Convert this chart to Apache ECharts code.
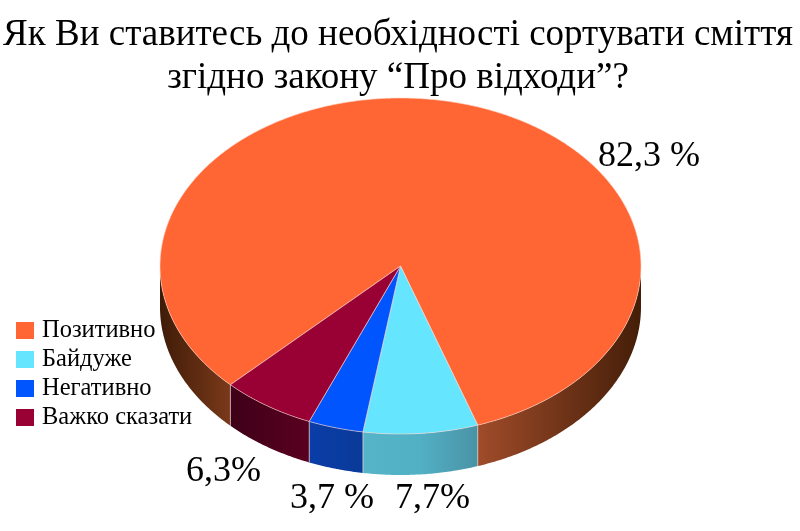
<!DOCTYPE html>
<html><head><meta charset="utf-8">
<style>html,body{margin:0;padding:0;background:#fff}#c{width:800px;height:531px}</style>
<script src="https://cdn.jsdelivr.net/npm/echarts@6/dist/echarts.min.js"></script>
</head><body><div id="c"></div>
<script>
const categories = ['Позитивно', 'Байдуже', 'Негативно', 'Важко сказати'];
const values = [82.3, 7.7, 3.7, 6.3];
const valueLabels = ['82,3 %', '7,7%', '3,7 %', '6,3%'];
const titleText = 'Як Ви ставитесь до необхідності сортувати сміття\nзгідно закону “Про відходи”?';

const topColors = ['#FF6633', '#66E5FF', '#0055FF', '#990033'];
const wallStops = [
  [[0,'#3f1c08'],[0.15,'#7c3a1a'],[0.66,'#a04c2a'],[1,'#451e08']],
  [[0,'#55b4c8'],[0.5,'#52b0c4'],[1,'#4a92a6']],
  [[0,'#0a3da8'],[1,'#0a3a98']],
  [[0,'#3f0018'],[1,'#5a0020']]
];
const wallRange = [[160,640],[363,478],[310,363],[232,310]];
const CX = 400.5, CY = 266, RX = 240.5, RY = 168, DEPTH = 41, START = 225;
const FONT = '"Liberation Serif", serif';

const total = values.reduce((a, b) => a + b, 0);
const pt = (deg, dy) => {
  const r = deg * Math.PI / 180;
  return [CX + RX * Math.sin(r), CY - RY * Math.cos(r) + (dy || 0)];
};
function arc(a, b, dy) {
  const out = [];
  const n = Math.max(2, Math.ceil(Math.abs(b - a) * 2));
  for (let i = 0; i <= n; i++) out.push(pt(a + (b - a) * i / n, dy));
  return out;
}
function renderSlice(idx) {
  return function (params, api) {
    let before = 0;
    for (let i = 0; i < idx; i++) before += values[i];
    const a0 = START + before / total * 360;
    const a1 = a0 + api.value(0) / total * 360;
    const children = [];
    const grad = {
      type: 'linear', x: wallRange[idx][0], y: 0, x2: wallRange[idx][1], y2: 0, global: true,
      colorStops: wallStops[idx].map(s => ({ offset: s[0], color: s[1] }))
    };
    [[90, 270], [450, 630]].forEach(([f0, f1]) => {
      const s = Math.max(a0, f0), e = Math.min(a1, f1);
      if (e <= s) return;
      const upper = arc(s, e, 0), lower = arc(e, s, DEPTH);
      children.push({ type: 'polygon', shape: { points: upper.concat(lower) }, style: { fill: grad } });
      [s, e].forEach(x => {
        if (x === 90 || x === 270 || x === 450 || x === 630) return;
        const p = pt(x, 0);
        children.push({ type: 'line', shape: { x1: p[0], y1: p[1], x2: p[0], y2: p[1] + DEPTH },
          style: { stroke: 'rgba(225,215,215,0.55)', lineWidth: 1 } });
      });
    });
    const pts = [[CX, CY]].concat(arc(a0, a1, 0));
    children.push({ type: 'polygon', shape: { points: pts },
      style: { fill: topColors[idx], stroke: 'rgba(255,215,205,0.75)', lineWidth: 0.8, lineJoin: 'round' } });
    return { type: 'group', children };
  };
}

const chart = echarts.init(document.getElementById('c'));
chart.setOption({
  animation: false,
  backgroundColor: '#fff',
  title: {
    text: titleText, left: 398, textAlign: 'center', top: 9, padding: [5, 0, 5, 0],
    textStyle: { fontFamily: FONT, fontWeight: 'normal', fontSize: 37, lineHeight: 43, color: '#000' }
  },
  legend: {
    orient: 'vertical', left: 16, top: 318, padding: 0, icon: 'rect', itemWidth: 18, itemHeight: 17, itemGap: 4,
    textStyle: { fontFamily: FONT, fontSize: 24.5, lineHeight: 24, color: '#000', padding: [0, 0, 0, 3] },
    data: categories
  },
  graphic: [
    { type: 'text', left: 598, top: 139, style: { text: valueLabels[0], font: '36px ' + FONT, fill: '#000' } },
    { type: 'text', left: 395, top: 481, style: { text: valueLabels[1], font: '36px ' + FONT, fill: '#000' } },
    { type: 'text', left: 290, top: 481, style: { text: valueLabels[2], font: '36px ' + FONT, fill: '#000' } },
    { type: 'text', left: 186, top: 454, style: { text: valueLabels[3], font: '36px ' + FONT, fill: '#000' } }
  ],
  series: categories.map((name, i) => ({
    type: 'custom', name, coordinateSystem: 'none', silent: true,
    itemStyle: { color: topColors[i] },
    renderItem: renderSlice(i),
    data: [[values[i]]]
  }))
});
</script></body></html>
